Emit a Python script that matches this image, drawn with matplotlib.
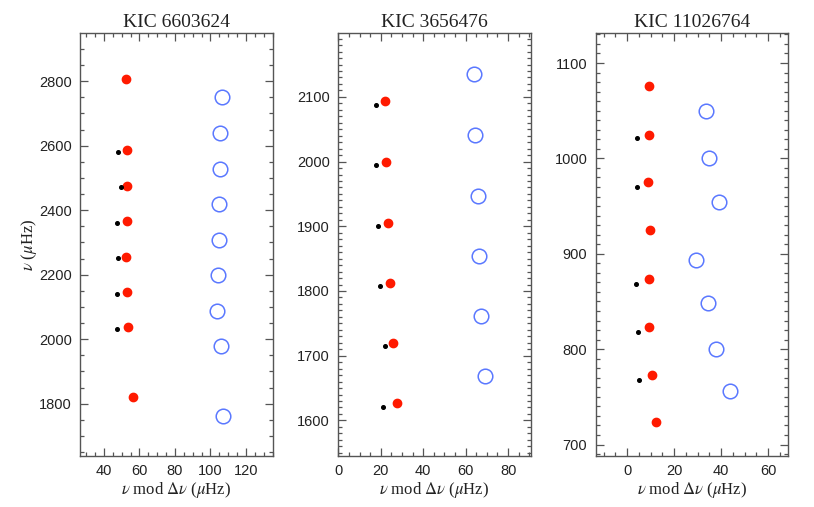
import numpy as np
import matplotlib
matplotlib.use('Agg')
import matplotlib.pyplot as plt
from matplotlib.ticker import MultipleLocator

plt.rcParams['mathtext.fontset'] = 'stix'

# echelle diagrams, three stars
titles = ['KIC 6603624', 'KIC 3656476', 'KIC 11026764']

# KIC 6603624
red1_x = [52.6, 53.0, 53.0, 52.8, 52.5, 53.0, 53.3, 56.5]
red1_y = [2806, 2586, 2476, 2366, 2256, 2146, 2037, 1820]
blk1_x = [47.7, 49.4, 47.5, 47.7, 47.2, 47.2]
blk1_y = [2581, 2472, 2361, 2252, 2141, 2031]
blu1_x = [106.7, 105.4, 105.6, 104.8, 104.6, 104.2, 103.8, 105.7, 107.2]
blu1_y = [2750, 2640, 2529, 2419, 2309, 2199, 2087, 1980, 1762]

# KIC 3656476
red2_x = [22.1, 22.6, 23.3, 24.5, 25.7, 27.5]
red2_y = [2093, 1999, 1905, 1812, 1719, 1627]
blk2_x = [17.7, 17.9, 18.7, 19.8, 22.1, 21.0]
blk2_y = [2088, 1995, 1901, 1808, 1715, 1621]
blu2_x = [64.0, 64.6, 65.9, 66.2, 67.1, 69.2]
blu2_y = [2135, 2041, 1947, 1854, 1761, 1668]

# KIC 11026764
red3_x = [9.5, 9.1, 8.9, 9.7, 9.5, 9.5, 10.5, 12.1]
red3_y = [1076, 1025, 975, 925, 874, 823, 773, 724]
blk3_x = [4.4, 4.3, 3.7, 4.7, 5.0]
blk3_y = [1021, 970, 868, 818, 768]
blu3_x = [33.6, 35.0, 39.0, 29.5, 34.4, 37.7, 44.0]
blu3_y = [1050, 1000, 954, 894, 848, 800, 756]

data = [(red1_x, red1_y, blk1_x, blk1_y, blu1_x, blu1_y),
        (red2_x, red2_y, blk2_x, blk2_y, blu2_x, blu2_y),
        (red3_x, red3_y, blk3_x, blk3_y, blu3_x, blu3_y)]

xlims = [(26.5, 135), (0, 90.7), (-13.4, 68.6)]
ylims = [(1638, 2948), (1545, 2198), (688, 1131)]
xmaj = [20, 20, 20]
xmin = [5, 5, 5]
ymaj = [200, 100, 100]
ymin = [50, 10, 10]

lefts = [0.0983, 0.4156, 0.7318]
width = 0.2365
bottom = 0.1006
height = 0.8334

serif = 'Liberation Serif'
sans = 'Liberation Sans'
axcol = '#555555'

fig = plt.figure(figsize=(8.14, 5.07), dpi=100)

for i in range(3):
    ax = fig.add_axes([lefts[i], bottom, width, height])
    rx, ry, bx, by, ox, oy = data[i]
    ax.plot(ox, oy, 'o', ms=10.5, mfc='none', mec='#5a78ff', mew=1.1)
    ax.plot(rx, ry, 'o', ms=6, color='#ff1a00', mec='#ff1a00')
    ax.plot(bx, by, 'o', ms=2.6, color='black')
    ax.set_xlim(xlims[i])
    ax.set_ylim(ylims[i])
    ax.xaxis.set_major_locator(MultipleLocator(xmaj[i]))
    ax.xaxis.set_minor_locator(MultipleLocator(xmin[i]))
    ax.yaxis.set_major_locator(MultipleLocator(ymaj[i]))
    ax.yaxis.set_minor_locator(MultipleLocator(ymin[i]))
    ax.tick_params(which='both', direction='in', top=True, right=True,
                   color=axcol, width=0.9)
    ax.tick_params(which='major', length=6, pad=6)
    ax.tick_params(which='minor', length=3)
    for lab in ax.get_xticklabels() + ax.get_yticklabels():
        lab.set_family(sans)
        lab.set_fontsize(10.5)
        lab.set_color('#222222')
    for sp in ax.spines.values():
        sp.set_color(axcol)
        sp.set_linewidth(1.0)
    ax.set_title(titles[i], family=serif, fontsize=14, color='#222222', pad=5)
    ax.set_xlabel(r'$\nu$ mod $\Delta\nu$ ($\mu$Hz)', family=serif,
                  fontsize=12, color='#222222', labelpad=1)
    if i == 0:
        ax.set_ylabel(r'$\nu$ ($\mu$Hz)', family=serif, fontsize=12,
                      color='#222222', labelpad=0)

fig.savefig('out.png', dpi=100)
